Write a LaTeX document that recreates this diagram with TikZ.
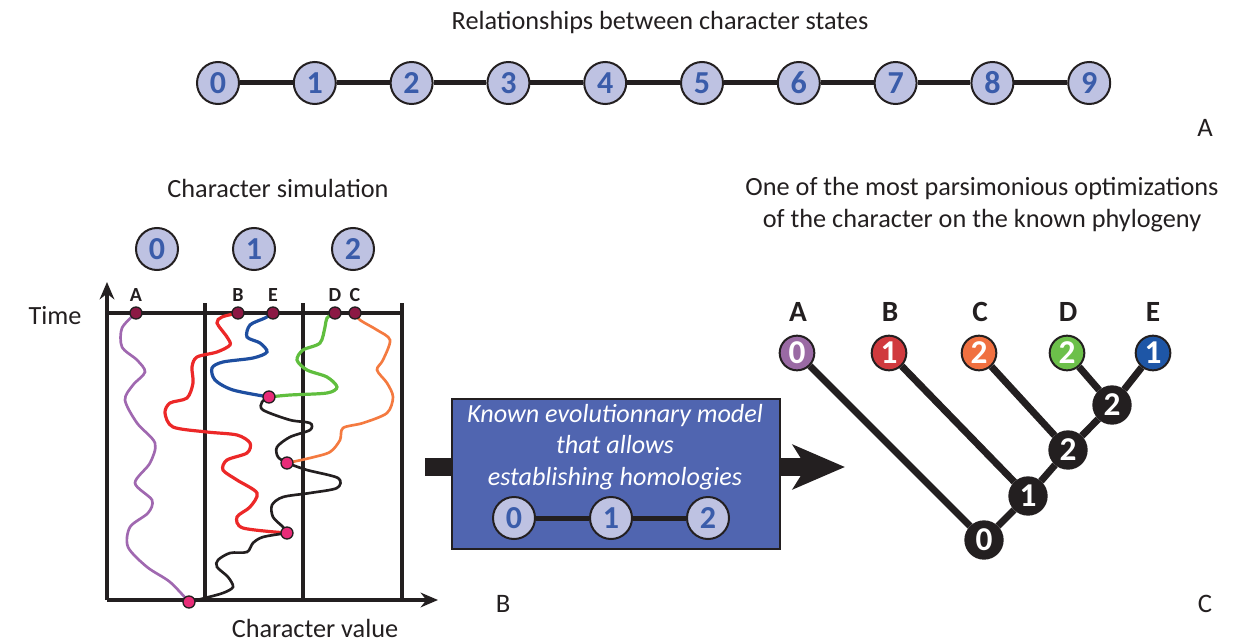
\documentclass[tikz,border=0pt]{standalone}
\usepackage{fontspec}
\setmainfont{Carlito}
\usetikzlibrary{arrows.meta}

\definecolor{inkdark}{RGB}{35,31,32}
\definecolor{statefill}{RGB}{190,194,226}
\definecolor{stateblue}{RGB}{58,92,170}
\definecolor{modelblue}{RGB}{80,101,176}
\definecolor{dotmaroon}{RGB}{140,24,68}
\definecolor{dotpink}{RGB}{232,44,120}
\definecolor{linepurple}{RGB}{160,104,176}
\definecolor{linered}{RGB}{236,40,40}
\definecolor{lineblue}{RGB}{30,78,160}
\definecolor{linegreen}{RGB}{96,190,62}
\definecolor{lineorange}{RGB}{244,122,64}
\definecolor{tippurple}{RGB}{154,106,164}
\definecolor{tipred}{RGB}{208,58,62}
\definecolor{tiporange}{RGB}{240,112,64}
\definecolor{tipgreen}{RGB}{108,192,74}
\definecolor{tipblue}{RGB}{30,86,166}

\tikzset{every picture/.style={line width=0.75pt}}
\tikzset{
  statenode/.style={circle, draw=inkdark, fill=statefill, text=stateblue, line width=1.5pt,
    minimum size=31.5pt, inner sep=0pt, font=\fontsize{24}{24}\selectfont\bfseries},
  chainline/.style={draw=inkdark, line width=3.75pt},
  heading/.style={font=\fontsize{19.7}{24}\selectfont, text=inkdark, align=center},
  panelletter/.style={font=\fontsize{20}{20}\selectfont, text=inkdark},
  simlabel/.style={font=\fontsize{15}{15}\selectfont\bfseries, text=inkdark},
  frameline/.style={draw=inkdark, line width=3pt},
  simcurve/.style={line width=2pt, line cap=round},
  topdot/.style={circle, draw=inkdark, fill=dotmaroon, line width=1pt, minimum size=9pt, inner sep=0pt},
  mergedot/.style={topdot, fill=dotpink},
  modelbox/.style={draw=inkdark, fill=modelblue, line width=1.5pt, minimum width=246pt,
    minimum height=112.5pt, inner sep=0pt},
  modeltext/.style={font=\fontsize{19.6}{23.5}\selectfont\itshape, text=white, align=center},
  bigarrow/.style={draw=inkdark, line width=13.5pt},
  tiplabel/.style={font=\fontsize{22}{22}\selectfont\bfseries, text=inkdark},
  tipnode/.style={circle, draw=inkdark, line width=1.5pt, text=white, minimum size=26pt,
    inner sep=0pt, font=\fontsize{25}{25}\selectfont\bfseries},
  innernode/.style={tipnode, fill=inkdark, minimum size=28pt},
  treeedge/.style={draw=inkdark, line width=5.25pt}
}

\begin{document}
\begin{tikzpicture}[x=0.75pt,y=0.75pt,yscale=-1,xscale=1]
\useasboundingbox (0,0) rectangle (1245,642);

% Text Node
\node[heading] (titleA) at (660,22) {Relationships between character states};
% Character states
\node[statenode] (s0) at (218,83) {0};
\node[statenode] (s1) at (314.8,83) {1};
\node[statenode] (s2) at (411.6,83) {2};
\node[statenode] (s3) at (508.4,83) {3};
\node[statenode] (s4) at (605.2,83) {4};
\node[statenode] (s5) at (702,83) {5};
\node[statenode] (s6) at (798.8,83) {6};
\node[statenode] (s7) at (895.6,83) {7};
\node[statenode] (s8) at (992.4,83) {8};
\node[statenode] (s9) at (1089.2,83) {9};
%Straight Lines
\draw[chainline] (s0) -- (s1);
\draw[chainline] (s1) -- (s2);
\draw[chainline] (s2) -- (s3);
\draw[chainline] (s3) -- (s4);
\draw[chainline] (s4) -- (s5);
\draw[chainline] (s5) -- (s6);
\draw[chainline] (s6) -- (s7);
\draw[chainline] (s7) -- (s8);
\draw[chainline] (s8) -- (s9);
% Text Node
\node[panelletter] (letterA) at (1205,128) {A};

% Text Node
\node[heading] (titleB) at (278,188) {Character simulation};
\node[statenode] (sim0) at (157,249) {0};
\node[statenode] (sim1) at (254,249) {1};
\node[statenode] (sim2) at (353,249) {2};

%Frame and axes
\draw[frameline] (107,313) -- (402,313);
\draw[frameline] (205,303) -- (205,600);
\draw[frameline] (303,303) -- (303,600);
\draw[frameline] (402,303) -- (402,600);
\draw[frameline, -{Stealth[length=13pt,width=11pt]}] (107,600) -- (107,282);
\draw[frameline, -{Stealth[length=13pt,width=11pt]}] (107,600) -- (438,600);

% Dot positions
\coordinate (pA) at (136,313);
\coordinate (pB) at (238,313);
\coordinate (pE) at (273,313);
\coordinate (pD) at (335,313);
\coordinate (pC) at (355,313);
\coordinate (mDE) at (269,397);
\coordinate (mCDE) at (287,463);
\coordinate (mBCDE) at (287,533);
\coordinate (mRoot) at (189,602);

%Curve Lines
\draw[simcurve, linepurple] plot[smooth] coordinates {(pA) (122,328) (122,347) (137,360) (145,372) (133,385) (125,400) (137,423) (155,443) (150,463) (135,483) (152,500) (148,513) (130,527) (128,547) (147,567) (170,582) (mRoot)};
\draw[simcurve, linered, line width=2.4pt] plot[smooth] coordinates {(pB) (222,317) (217,323) (227,337) (230,345) (217,352) (197,357) (192,367) (193,383) (187,398) (170,403) (165,413) (173,427) (207,432) (237,435) (250,443) (247,453) (227,460) (223,470) (237,480) (257,493) (250,507) (237,517) (243,528) (mBCDE)};
\draw[simcurve, lineblue, line width=2.4pt] plot[smooth] coordinates {(pE) (265,318) (250,325) (247,337) (260,343) (267,352) (253,358) (223,362) (212,368) (215,380) (233,390) (mDE)};
\draw[simcurve, linegreen, line width=2.4pt] plot[smooth] coordinates {(pD) (327,318) (325,327) (320,343) (303,350) (297,360) (307,370) (327,377) (337,387) (327,393) (290,395) (mDE)};
\draw[simcurve, lineorange] plot[smooth] coordinates {(pC) (360,320) (377,330) (390,340) (383,360) (377,370) (387,383) (393,397) (387,413) (363,423) (343,428) (340,440) (330,452) (310,458) (mCDE)};
\draw[simcurve, inkdark] plot[smooth] coordinates {(mDE) (262,402) (263,410) (290,420) (310,423) (310,430) (290,437) (277,447) (278,457) (mCDE)};
\draw[simcurve, inkdark] plot[smooth] coordinates {(mCDE) (307,470) (338,478) (337,488) (310,493) (283,497) (272,505) (273,517) (283,527) (mBCDE)};
\draw[simcurve, inkdark] plot[smooth] coordinates {(mBCDE) (263,537) (253,543) (247,552) (230,553) (218,560) (217,567) (228,577) (233,587) (223,593) (205,598) (mRoot)};

% Dots
\node[topdot] (dotA) at (pA) {};
\node[topdot] (dotB) at (pB) {};
\node[topdot] (dotE) at (pE) {};
\node[topdot] (dotD) at (pD) {};
\node[topdot] (dotC) at (pC) {};
\node[mergedot] (dotDE) at (mDE) {};
\node[mergedot] (dotCDE) at (mCDE) {};
\node[mergedot] (dotBCDE) at (mBCDE) {};
\node[mergedot] (dotRoot) at (mRoot) {};
% Text Node
\node[simlabel] (labA) at (136,295) {A};
\node[simlabel] (labB) at (238,295) {B};
\node[simlabel] (labE) at (273,295) {E};
\node[simlabel] (labD) at (335,295) {D};
\node[simlabel] (labC) at (355,295) {C};
\node[heading] (timeLabel) at (55,316) {Time};
\node[heading] (valueLabel) at (315,628) {Character value};
\node[panelletter] (letterB) at (503,604) {B};

% Model box
\coordinate (arrowIn) at (425,467);
\coordinate (arrowOut) at (845,467);
\node[modelbox] (model) at (616,474) {};
\draw[bigarrow] (arrowIn) -- (arrowIn -| model.west);
\draw[bigarrow, -{Stealth[length=39pt,width=33pt,inset=10pt]}] (model.east |- arrowIn) -- (arrowOut);
\node[modeltext] (modelText) at (615,447) {Known evolutionnary model\\that allows\\establishing homologies};
\node[statenode] (m0) at (514,518) {0};
\node[statenode] (m1) at (611,518) {1};
\node[statenode] (m2) at (708,518) {2};
\draw[chainline] (m0) -- (m1);
\draw[chainline] (m1) -- (m2);

% Text Node
\node[heading] (titleC) at (982,205) {One of the most parsimonious optimizations\\of the character on the known phylogeny};
% Tree
\node[tipnode, fill=tippurple] (tA) at (797,353) {0};
\node[tipnode, fill=tipred] (tB) at (889,353) {1};
\node[tipnode, fill=tiporange] (tC) at (979,353) {2};
\node[tipnode, fill=tipgreen] (tD) at (1067,353) {2};
\node[tipnode, fill=tipblue] (tE) at (1153,353) {1};
\node[innernode] (nDE) at (1112,405) {2};
\node[innernode] (nCDE) at (1068,450) {2};
\node[innernode] (nBCDE) at (1028,496) {1};
\node[innernode] (nRoot) at (984,540) {0};
\draw[treeedge] (tA) -- (nRoot);
\draw[treeedge] (tB) -- (nBCDE);
\draw[treeedge] (tC) -- (nCDE);
\draw[treeedge] (tD) -- (nDE);
\draw[treeedge] (tE) -- (nDE);
\draw[treeedge] (nDE) -- (nCDE);
\draw[treeedge] (nCDE) -- (nBCDE);
\draw[treeedge] (nBCDE) -- (nRoot);
\node[tiplabel] (labTA) at (798,312) {A};
\node[tiplabel] (labTB) at (890,312) {B};
\node[tiplabel] (labTC) at (980,312) {C};
\node[tiplabel] (labTD) at (1068,312) {D};
\node[tiplabel] (labTE) at (1153,312) {E};
\node[panelletter] (letterC) at (1205,604) {C};

\end{tikzpicture}
\end{document}
